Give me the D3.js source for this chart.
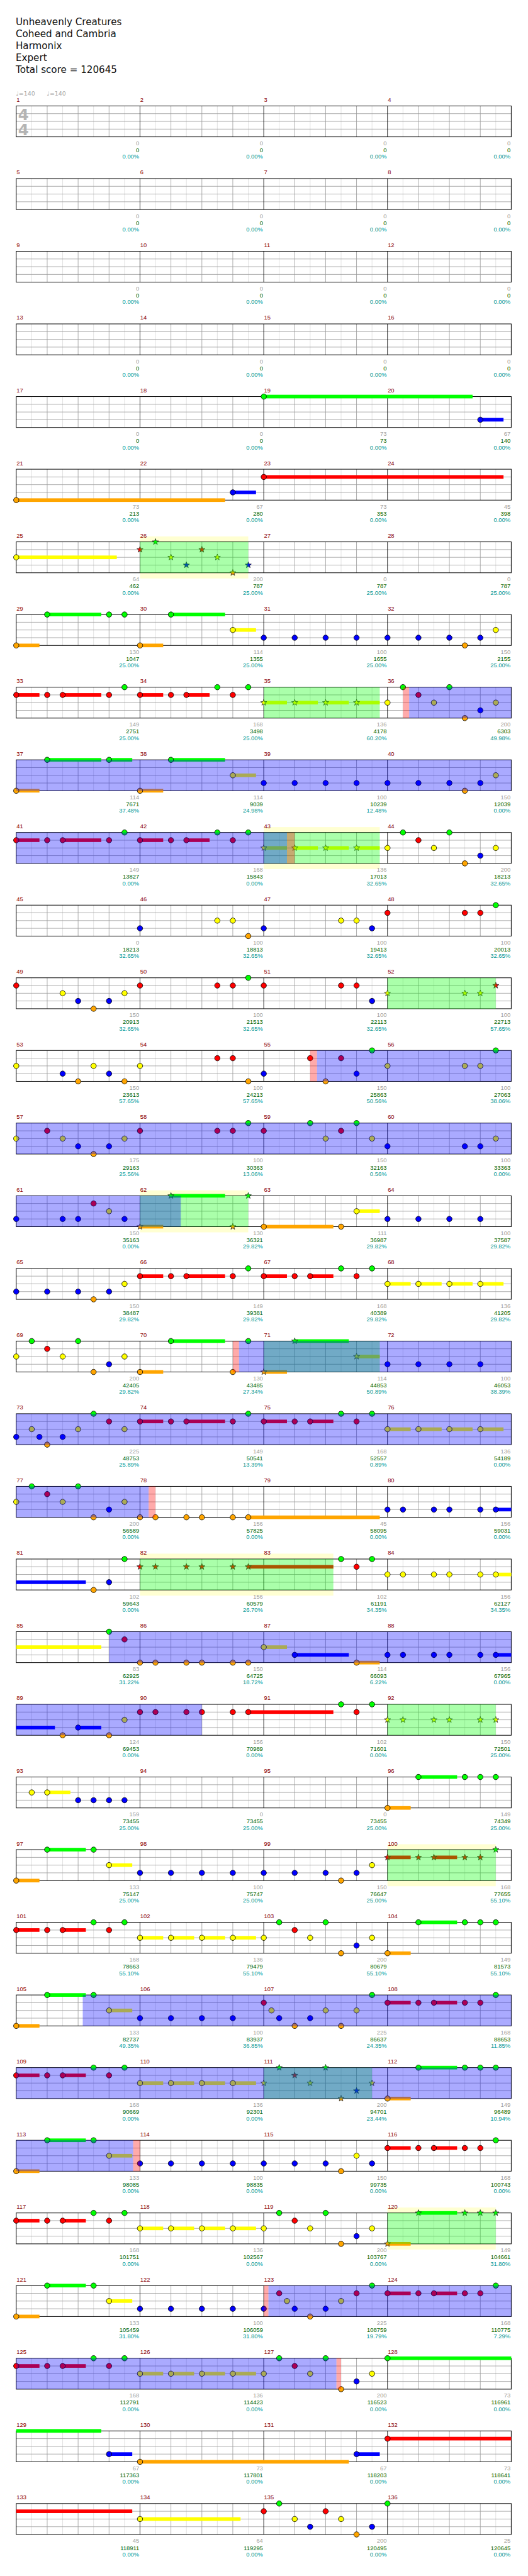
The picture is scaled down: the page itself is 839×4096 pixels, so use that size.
<!DOCTYPE html>
<html><head><meta charset="utf-8">
<script src="https://cdn.jsdelivr.net/npm/d3@7"></script>
<style>body{margin:0;background:#fff}svg{display:block}</style>
</head><body>
<script>
// ---------- DATA ----------
const titleLines = ["Unheavenly Creatures","Coheed and Cambria","Harmonix","Expert","Total score = 120645"];
const tempoMarks = [[0,"140"],[1,"140"]]; // [beat in measure 1, bpm]
const laneNames = ["G","R","Y","B","O"];
const laneColors = {G:"#00ff00",R:"#ff0000",Y:"#ffff00",B:"#0000ff",O:"#ffa500"};

// per-measure values (measures 1..136)
const gains = [
0,0,0,0, 0,0,0,0, 0,0,0,0, 0,0,0,0,
0,0,73,67, 73,67,73,45, 64,200,0,0, 130,114,100,150,
149,168,136,200, 114,114,100,150, 149,168,136,200, 0,100,100,100,
150,100,100,100, 150,100,150,100, 175,100,150,100, 150,130,111,100,
150,149,168,136, 200,130,114,100, 225,149,168,136, 200,156,45,156,
102,156,102,156, 83,150,114,156, 124,156,102,150, 159,0,0,149,
133,100,150,168, 168,136,200,149, 133,100,225,168, 168,136,200,149,
133,100,150,168, 168,136,200,149, 133,100,225,168, 168,136,200,73,
67,73,67,73, 45,64,200,25];
const totals = [
0,0,0,0, 0,0,0,0, 0,0,0,0, 0,0,0,0,
0,0,73,140, 213,280,353,398, 462,787,787,787, 1047,1355,1655,2155,
2751,3498,4178,6303, 7671,9039,10239,12039, 13827,15843,17013,18213, 18213,18813,19413,20013,
20913,21513,22113,22713, 23613,24213,25863,27063, 29163,30363,32163,33363, 35163,36321,36987,37587,
38487,39381,40389,41205, 42405,43485,44853,46053, 48753,50541,52557,54189, 56589,57825,58095,59031,
59643,60579,61191,62127, 62925,64725,66093,67965, 69453,70989,71601,72501, 73455,73455,73455,74349,
75147,75747,76647,77655, 78663,79479,80679,81573, 82737,83937,86637,88653, 90669,92301,94701,96489,
98085,98835,99735,100743, 101751,102567,103767,104661, 105459,106059,108759,110775, 112791,114423,116523,116961,
117363,117801,118203,118641, 118911,119295,120495,120645];
const percents = [
0,0,0,0, 0,0,0,0, 0,0,0,0, 0,0,0,0,
0,0,0,0, 0,0,0,0, 0,25,25,25, 25,25,25,25,
25,25,60.20,49.98, 37.48,24.98,12.48,0, 0,0,32.65,32.65, 32.65,32.65,32.65,32.65,
32.65,32.65,32.65,57.65, 57.65,57.65,50.56,38.06, 25.56,13.06,0.56,0, 0,29.82,29.82,29.82,
29.82,29.82,29.82,29.82, 29.82,27.34,50.89,38.39, 25.89,13.39,0.89,0, 0,0,0,0,
0,26.70,34.35,34.35, 31.22,18.72,6.22,0, 0,0,0,25, 25,25,25,25,
25,25,25,55.10, 55.10,55.10,55.10,55.10, 49.35,36.85,24.35,11.85, 0,0,23.44,10.94,
0,0,0,0, 0,0,0,31.80, 31.80,31.80,19.79,7.29, 0,0,0,0,
0,0,0,0, 0,0,0,0];

// notes: [row, beat within row (0-16), lane, sustain end beat (row-relative), star]
const notes = [
[5,8,"G",14.75],[5,15,"B",15.75],
[6,0,"O",6.75],[6,7,"B",7.75],[6,8,"R",15.75],
[7,0,"Y",3.25],[7,4,"R",0,1],[7,4.5,"G",0,1],[7,5,"Y",0,1],[7,5.5,"B",0,1],[7,6,"R",0,1],[7,6.5,"Y",0,1],[7,7,"O",0,1],[7,7.5,"B",0,1],
[8,0,"O",0.75],[8,1,"G",2.75],[8,3,"G"],[8,3.5,"G"],[8,4,"O",4.75],[8,5,"G",6.75],[8,7,"Y",7.75],[8,8,"B"],[8,9,"B"],[8,10,"B"],[8,11,"B"],[8,12,"B"],[8,13,"B"],[8,14,"B"],[8,14.5,"O"],[8,15,"B"],[8,15.5,"Y"],
[9,0,"R",0.75],[9,1,"R"],[9,1.5,"R",2.75],[9,3,"R"],[9,3.5,"G"],[9,4,"R",4.75],[9,5,"R"],[9,5.5,"R",6.25],[9,6.5,"G"],[9,7,"R"],[9,7.5,"G"],[9,8,"Y",8.75,1],[9,9,"Y",9.75,1],[9,10,"Y",10.75,1],[9,11,"Y",11.75,1],[9,12,"Y"],[9,12.5,"G"],[9,13,"R"],[9,13.5,"Y"],[9,14,"G"],[9,14.5,"O"],[9,15,"B"],[9,15.5,"Y"],
[10,0,"O",0.75],[10,1,"G",2.75],[10,3,"G",3.75],[10,4,"O",4.75],[10,5,"G",6.75],[10,7,"Y",7.75],[10,8,"B"],[10,9,"B"],[10,10,"B"],[10,11,"B"],[10,12,"B"],[10,13,"B"],[10,14,"B"],[10,14.5,"O"],[10,15,"B"],[10,15.5,"Y"],
[11,0,"R",0.75],[11,1,"R"],[11,1.5,"R",2.75],[11,3,"R"],[11,3.5,"G"],[11,4,"R",4.75],[11,5,"R"],[11,5.5,"R",6.25],[11,6.5,"G"],[11,7,"R"],[11,7.5,"G"],[11,8,"Y",8.75,1],[11,9,"Y",9.75,1],[11,10,"Y",10.75,1],[11,11,"Y",11.75,1],[11,12,"Y"],[11,12.5,"G"],[11,13,"R"],[11,13.5,"Y"],[11,14,"G"],[11,14.5,"O"],[11,15,"B"],[11,15.5,"Y"],
[12,4,"B"],[12,6.5,"Y"],[12,7,"Y"],[12,7.5,"O"],[12,8,"B"],[12,10.5,"Y"],[12,11,"Y"],[12,11.5,"B"],[12,12,"R"],[12,14.5,"R"],[12,15,"R"],[12,15.5,"G"],
[13,0,"R"],[13,1.5,"Y"],[13,2,"B"],[13,2.5,"O"],[13,3,"B"],[13,3.5,"Y"],[13,4,"R"],[13,6.5,"R"],[13,7,"R"],[13,7.5,"G"],[13,8,"R"],[13,10.5,"R"],[13,11,"R"],[13,11.5,"B"],[13,12,"Y",0,1],[13,14.5,"Y",0,1],[13,15,"Y",0,1],[13,15.5,"R",0,1],
[14,0,"Y"],[14,1.5,"B"],[14,2,"O"],[14,2.5,"Y"],[14,3,"B"],[14,3.5,"O"],[14,4,"Y"],[14,6.5,"R"],[14,7,"R"],[14,7.5,"O"],[14,8,"B"],[14,9.5,"R"],[14,10,"O"],[14,10.5,"R"],[14,11,"B"],[14,11.5,"G"],[14,12,"Y"],[14,14.5,"Y"],[14,15,"Y"],[14,15.5,"G"],
[15,0,"Y"],[15,1,"R"],[15,1.5,"Y"],[15,2,"B"],[15,2.5,"O"],[15,3,"B"],[15,3.5,"Y"],[15,4,"R"],[15,6.5,"R"],[15,7,"R"],[15,7.5,"G"],[15,8,"R"],[15,9.5,"G"],[15,10,"Y"],[15,10.5,"R"],[15,11,"G"],[15,11.5,"Y"],[15,12,"B"],[15,14.5,"B"],[15,15,"B"],[15,15.5,"Y"],
[16,0,"B"],[16,1.5,"B"],[16,2,"B"],[16,2.5,"R"],[16,3,"Y"],[16,3.5,"B"],[16,4,"O",4.75,1],[16,5,"G",6.75,1],[16,7,"O",0,1],[16,7.5,"G",0,1],[16,8,"O",10.25],[16,10.5,"O"],[16,11,"Y",11.75],[16,12,"B"],[16,13,"B"],[16,14,"B"],[16,15,"B"],
[17,0,"B"],[17,1,"B"],[17,2,"B"],[17,2.5,"O"],[17,3,"B"],[17,3.5,"Y"],[17,4,"R",4.75],[17,5,"R"],[17,5.5,"R",6.75],[17,7,"R"],[17,7.5,"G"],[17,8,"R",8.75],[17,9,"R"],[17,9.5,"R",10.25],[17,10.5,"G"],[17,11,"R"],[17,11.5,"G"],[17,12,"Y",12.75],[17,13,"Y",13.75],[17,14,"Y",14.75],[17,15,"Y",15.75],
[18,0,"Y"],[18,0.5,"G"],[18,1,"R"],[18,1.5,"Y"],[18,2,"G"],[18,2.5,"O"],[18,3,"B"],[18,3.5,"Y"],[18,4,"O",4.75],[18,5,"G",6.75],[18,7,"O"],[18,7.5,"G"],[18,8,"O",8.75,1],[18,9,"G",10.75,1],[18,11,"Y",11.75,1],[18,12,"B"],[18,13,"B"],[18,14,"B"],[18,15,"B"],
[19,0,"B"],[19,0.5,"Y"],[19,0.75,"B"],[19,1,"O"],[19,1.5,"B"],[19,2,"Y"],[19,2.5,"G"],[19,3,"R"],[19,3.5,"Y"],[19,4,"R",4.75],[19,5,"R"],[19,5.5,"R",6.75],[19,7,"R"],[19,7.5,"G"],[19,8,"R",8.75],[19,9,"R"],[19,9.5,"R",10.25],[19,10.5,"G"],[19,11,"R"],[19,11.5,"G"],[19,12,"Y",12.75],[19,13,"Y",13.75],[19,14,"Y",14.75],[19,15,"Y",15.75],
[20,0,"Y"],[20,0.5,"G"],[20,1,"R"],[20,1.5,"Y"],[20,2,"G"],[20,2.5,"O"],[20,3,"B"],[20,3.5,"Y"],[20,4,"O"],[20,4.5,"O"],[20,5.5,"O"],[20,6,"O"],[20,7,"O"],[20,7.5,"O",11.75],[20,12,"B"],[20,12.5,"B"],[20,13.5,"B"],[20,14,"B"],[20,15,"B"],[20,15.5,"B",18.25],
[21,2.5,"O"],[21,3,"B"],[21,3.5,"G"],[21,4,"R",0,1],[21,4.5,"R",0,1],[21,5.5,"R",0,1],[21,6,"R",0,1],[21,7,"R",0,1],[21,7.5,"R",10.25,1],[21,10.5,"G"],[21,11,"R"],[21,11.5,"G"],[21,12,"Y"],[21,12.5,"Y"],[21,13.5,"Y"],[21,14,"Y"],[21,15,"Y"],[21,15.5,"Y",18.75],
[22,3,"G"],[22,3.5,"R"],[22,4,"O"],[22,4.5,"O"],[22,5.5,"O"],[22,6,"O"],[22,7,"O"],[22,7.5,"O"],[22,8,"Y",8.75],[22,9,"B",10.75],[22,11,"O",11.75],[22,12,"B"],[22,12.5,"B"],[22,13.5,"B"],[22,14,"B"],[22,15,"B"],[22,15.5,"B",17.25],
[23,1.5,"O"],[23,2,"B",2.75],[23,3,"O"],[23,3.5,"Y"],[23,4,"R"],[23,4.5,"R"],[23,5.5,"R"],[23,6,"R"],[23,7,"R"],[23,7.5,"R",10.25],[23,10.5,"G"],[23,11,"R"],[23,11.5,"G"],[23,12,"Y",0,1],[23,12.5,"Y",0,1],[23,13.5,"Y",0,1],[23,14,"Y",0,1],[23,15,"Y",0,1],[23,15.5,"Y",0,1],
[24,0.5,"Y"],[24,1,"Y",1.75],[24,2,"B"],[24,2.5,"B"],[24,3,"B"],[24,3.5,"B"],[24,12,"O",12.75],[24,13,"G",14.25],[24,14.5,"G"],[24,15,"G"],[24,15.5,"G"],
[25,0,"O",0.75],[25,1,"G",2.25],[25,2.5,"G"],[25,3,"Y",3.75],[25,4,"B"],[25,5,"B"],[25,6,"B"],[25,7,"B"],[25,8,"B"],[25,9,"B"],[25,10,"B"],[25,10.5,"O"],[25,11,"B"],[25,11.5,"Y"],[25,12,"R",12.75,1],[25,13,"R",0,1],[25,13.5,"R",14.25,1],[25,14.5,"R",0,1],[25,15,"R",0,1],[25,15.5,"G",0,1],
[26,0,"R",0.75],[26,1,"R"],[26,1.5,"R",2.25],[26,2.5,"G"],[26,3,"R"],[26,3.5,"G"],[26,4,"Y",4.75],[26,5,"Y",5.75],[26,6,"Y",6.75],[26,7,"Y",7.75],[26,8,"Y"],[26,8.5,"G"],[26,9,"R"],[26,9.5,"Y"],[26,10,"G"],[26,10.5,"O"],[26,11,"B"],[26,11.5,"Y"],[26,12,"O",12.75],[26,13,"G",14.25],[26,14.5,"G"],[26,15,"G"],[26,15.5,"G"],
[27,0,"O",0.75],[27,1,"G",2.25],[27,2.5,"G"],[27,3,"Y",3.75],[27,4,"B"],[27,5,"B"],[27,6,"B"],[27,7,"B"],[27,8,"R"],[27,8.25,"Y"],[27,8.5,"B"],[27,9,"O"],[27,9.5,"B"],[27,10,"Y"],[27,10.5,"O"],[27,11,"Y"],[27,11.5,"G"],[27,12,"R",12.75],[27,13,"R"],[27,13.5,"R",14.25],[27,14.5,"R"],[27,15,"R"],[27,15.5,"G"],
[28,0,"R",0.75],[28,1,"R"],[28,1.5,"R",2.25],[28,2.5,"G"],[28,3,"R"],[28,3.5,"G"],[28,4,"Y",4.75],[28,5,"Y",5.75],[28,6,"Y",6.75],[28,7,"Y",7.75],[28,8,"Y",0,1],[28,8.5,"G",0,1],[28,9,"R",0,1],[28,9.5,"Y",0,1],[28,10,"G",0,1],[28,10.5,"O",0,1],[28,11,"B",0,1],[28,11.5,"Y",0,1],[28,12,"O",12.75],[28,13,"G",14.25],[28,14.5,"G"],[28,15,"G"],[28,15.5,"G"],
[29,0,"O",0.75],[29,1,"G",2.25],[29,2.5,"G"],[29,3,"Y",3.75],[29,4,"B"],[29,5,"B"],[29,6,"B"],[29,7,"B"],[29,8,"B"],[29,9,"B"],[29,10,"B"],[29,10.5,"O"],[29,11,"Y"],[29,11.5,"B"],[29,12,"R",12.75],[29,13,"R"],[29,13.5,"R",14.25],[29,14.5,"R"],[29,15,"R"],[29,15.5,"G"],
[30,0,"R",0.75],[30,1,"R"],[30,1.5,"R",2.25],[30,2.5,"G"],[30,3,"R"],[30,3.5,"G"],[30,4,"Y",4.75],[30,5,"Y",5.75],[30,6,"Y",6.75],[30,7,"Y",7.75],[30,8,"Y"],[30,8.5,"G"],[30,9,"R"],[30,9.5,"Y"],[30,10,"G"],[30,10.5,"O"],[30,11,"B"],[30,11.5,"Y"],[30,12,"O",12.75,1],[30,13,"G",14.25,1],[30,14.5,"G",0,1],[30,15,"G",0,1],[30,15.5,"G",0,1],
[31,0,"O",0.75],[31,1,"G",2.25],[31,2.5,"G"],[31,3,"Y",3.75],[31,4,"B"],[31,5,"B"],[31,6,"B"],[31,7,"B"],[31,8,"B"],[31,8.5,"R"],[31,8.75,"Y"],[31,9,"B"],[31,9.5,"O"],[31,10,"B"],[31,10.5,"Y"],[31,11,"R"],[31,11.5,"G"],[31,12,"R",12.75],[31,13,"R"],[31,13.5,"R",14.25],[31,14.5,"R"],[31,15,"R"],[31,15.5,"G"],
[32,0,"R",0.75],[32,1,"R"],[32,1.5,"R",2.25],[32,2.5,"G"],[32,3,"R"],[32,3.5,"G"],[32,4,"Y",4.75],[32,5,"Y",5.75],[32,6,"Y",6.75],[32,7,"Y",7.75],[32,8,"Y"],[32,8.5,"G"],[32,9,"R"],[32,9.5,"Y"],[32,10,"G"],[32,10.5,"O"],[32,11,"B"],[32,11.5,"Y"],[32,12,"G",18.75],
[33,3,"B",3.75],[33,4,"O",10.75],[33,11,"B",11.75],[33,12,"R",19.75],
[34,4,"Y",7.25],[34,8,"R"],[34,8.5,"G"],[34,9,"Y"],[34,9.5,"B"],[34,10,"R"],[34,10.5,"Y"],[34,11,"O"],[34,11.5,"B"],[34,12,"G"]
];

// star power phrases: [row, startBeat, endBeat, highlighted background]
const spPhrases = [[7,4,7.5,1],[9,8,11.75,0],[11,8,11.75,1],[13,12,15.5,0],[16,4,7.5,1],[18,8,11.75,0],[21,4,10.25,1],[23,12,15.5,0],[25,12,15.5,1],[28,8,11.5,0],[30,12,15.5,1]];
// activations: [startRow, startBeat, endRow, endBeat]
const activations = [[9,12.7,11,8.75],[14,9.72,16,5.32],[18,7.2,20,4.28],[22,3,23,6],[27,2.15,29,3.78],[31,8.15,32,10.35]];
const redStrips = [[9,12.5,9,12.7],[11,8.75,11,9],[14,9.5,14,9.72],[18,7,18,7.2],[20,4.28,20,4.5],[29,3.78,29,4],[31,8,31,8.15],[32,10.35,32,10.5]];

// ---------- DRAW ----------
const W = 1024, H = 4999, NROWS = 34, BPR = 16;
const svg = d3.select("body").append("svg").attr("width",839).attr("height",4096).attr("viewBox",`0 0 ${W} ${H}`);
const x = d3.scaleLinear().domain([0,BPR]).range([31.5,991.5]);
const rowY = d3.scaleLinear().domain([0,NROWS-1]).range([205.5,205.5+141*(NROWS-1)]);
const laneY = d3.scalePoint().domain(laneNames).range([0,60]);
const abs = (r,b) => (r-1)*BPR + b;
function splitRows(a,b){ const out=[]; for(let r=Math.floor(a/BPR); r*BPR<b; r++){ const s=Math.max(a,r*BPR)-r*BPR, e=Math.min(b,(r+1)*BPR)-r*BPR; if(e>s) out.push({row:r,s,e}); } return out; }

// title
svg.append("g").selectAll("text").data(titleLines).join("text")
  .attr("x",30.5).attr("y",(d,i)=>49+23*i).attr("font-family","DejaVu Sans").attr("font-size",18.5).attr("fill","#111").text(d=>d);

const font = "Liberation Sans, Arial, sans-serif";
const rows = svg.append("g").selectAll("g").data(d3.range(NROWS)).join("g").attr("transform",r=>`translate(0,${rowY(r)})`);

// yellow backgrounds for phrases
const sp = spPhrases.map(d=>({row:d[0]-1,s:d[1],e:d[2],bg:d[3]}));
rows.each(function(r){
  const g = d3.select(this);
  g.selectAll("rect.ybg").data(sp.filter(d=>d.row===r && d.bg)).join("rect").attr("class","ybg")
    .attr("x",d=>x(d.s)).attr("width",d=>x(d.e)-x(d.s)).attr("y",-10.5).attr("height",81.5).attr("fill","#ffffd2");
  g.append("rect").attr("x",x(0)).attr("y",0).attr("width",x(16)-x(0)).attr("height",60).attr("fill","#fff");
  // half-beat lines
  g.selectAll("line.h").data(d3.range(0.5,16,1)).join("line").attr("class","h")
    .attr("x1",d=>x(d)).attr("x2",d=>x(d)).attr("y1",0).attr("y2",60).attr("stroke","#dcdcdc");
  // lane lines
  g.selectAll("line.l").data(laneNames.slice(1,4)).join("line").attr("class","l")
    .attr("x1",x(0)).attr("x2",x(16)).attr("y1",d=>laneY(d)).attr("y2",d=>laneY(d)).attr("stroke","#9a9a9a");
  // beat lines
  g.selectAll("line.b").data(d3.range(1,16).filter(d=>d%4)).join("line").attr("class","b")
    .attr("x1",d=>x(d)).attr("x2",d=>x(d)).attr("y1",0).attr("y2",60).attr("stroke","#9a9a9a");
  // measure lines
  g.selectAll("line.m").data([4,8,12]).join("line").attr("class","m")
    .attr("x1",d=>x(d)).attr("x2",d=>x(d)).attr("y1",0).attr("y2",60).attr("stroke","#000");
  g.append("rect").attr("x",x(0)).attr("y",0).attr("width",x(16)-x(0)).attr("height",60).attr("fill","none").attr("stroke","#000").attr("stroke-width",1.2);
});

// time signature & tempo (first row)
const first = rows.filter(r=>r===0);
first.selectAll("text.ts").data([31.5,61]).join("text").attr("class","ts").attr("x",35).attr("y",d=>d-4.5)
  .attr("font-family","DejaVu Sans").attr("font-weight","bold").attr("font-size",30).attr("fill","#b4b4b4").text("4");
first.selectAll("text.tempo").data(tempoMarks).join("text").attr("class","tempo")
  .attr("x",d=>x(d[0])-0.5).attr("y",-20.5).attr("font-family","DejaVu Sans").attr("font-size",11.5).attr("fill","#a8a8a8").text(d=>"\u2669="+d[1]);

// sustains
const sus = [];
notes.forEach(n=>{ if(n[3] && n[3]>n[1]){ splitRows(abs(n[0],n[1]),abs(n[0],n[3])).forEach(s=>sus.push({...s,lane:n[2]})); }});
rows.each(function(r){
  d3.select(this).selectAll("rect.sus").data(sus.filter(d=>d.row===r)).join("rect").attr("class","sus")
    .attr("x",d=>x(d.s)).attr("width",d=>x(d.e)-x(d.s)).attr("y",d=>laneY(d.lane)-3.5).attr("height",7).attr("fill",d=>laneColors[d.lane]);
});

// note heads
function starPath(R,r){ const p=[]; for(let i=0;i<10;i++){ const a=-Math.PI/2+i*Math.PI/5, rr=i%2?r:R; p.push([rr*Math.cos(a),rr*Math.sin(a)]); } return "M"+p.map(q=>q.join(",")).join("L")+"Z"; }
const star = starPath(6.3,2.6);
const nd = notes.map(n=>({row:n[0]-1,b:n[1],lane:n[2],star:!!n[4]}));
rows.each(function(r){
  const g = d3.select(this), mine = nd.filter(d=>d.row===r);
  g.selectAll("circle.n").data(mine.filter(d=>!d.star)).join("circle").attr("class","n")
    .attr("cx",d=>x(d.b)).attr("cy",d=>laneY(d.lane)).attr("r",5.2).attr("fill",d=>laneColors[d.lane]).attr("stroke","#000").attr("stroke-width",1);
  g.selectAll("path.s").data(mine.filter(d=>d.star)).join("path").attr("class","s")
    .attr("transform",d=>`translate(${x(d.b)},${laneY(d.lane)})`).attr("d",star).attr("fill",d=>laneColors[d.lane]).attr("stroke","#222").attr("stroke-width",0.9);
});

// overlays
const acts = []; activations.forEach(a=>splitRows(abs(a[0],a[1]),abs(a[2],a[3])).forEach(s=>acts.push(s)));
const reds = []; redStrips.forEach(a=>splitRows(abs(a[0],a[1]),abs(a[2],a[3])).forEach(s=>reds.push(s)));
rows.each(function(r){
  const g = d3.select(this);
  g.selectAll("rect.sp").data(sp.filter(d=>d.row===r)).join("rect").attr("class","sp")
    .attr("x",d=>x(d.s)).attr("width",d=>x(d.e)-x(d.s)).attr("y",0).attr("height",60).attr("fill","#00ff00").attr("fill-opacity",0.333);
  g.selectAll("rect.act").data(acts.filter(d=>d.row===r)).join("rect").attr("class","act")
    .attr("x",d=>x(d.s)).attr("width",d=>x(d.e)-x(d.s)).attr("y",0).attr("height",60).attr("fill","#0000ff").attr("fill-opacity",0.333);
  g.selectAll("rect.red").data(reds.filter(d=>d.row===r)).join("rect").attr("class","red")
    .attr("x",d=>x(d.s)).attr("width",d=>x(d.e)-x(d.s)).attr("y",0).attr("height",60).attr("fill","#ff0000").attr("fill-opacity",0.333);
});

// measure texts
const meas = d3.range(1,gains.length+1).map(m=>({m,row:Math.floor((m-1)/4),col:(m-1)%4}));
rows.each(function(r){
  const g = d3.select(this), mine = meas.filter(d=>d.row===r);
  g.selectAll("text.mn").data(mine).join("text").attr("class","mn")
    .attr("x",d=>x(d.col*4)+0.5).attr("y",-8).attr("font-family",font).attr("font-size",11.5).attr("fill","#8b0000").text(d=>d.m);
  const right = d=>x(d.col*4+4)-1.5;
  g.selectAll("text.g1").data(mine).join("text").attr("class","g1").attr("text-anchor","end")
    .attr("x",right).attr("y",76.5).attr("font-family",font).attr("font-size",11.5).attr("fill","#a0a0a0").text(d=>gains[d.m-1]);
  g.selectAll("text.g2").data(mine).join("text").attr("class","g2").attr("text-anchor","end")
    .attr("x",right).attr("y",90).attr("font-family",font).attr("font-size",11.5).attr("fill","#006400").text(d=>totals[d.m-1]);
  g.selectAll("text.g3").data(mine).join("text").attr("class","g3").attr("text-anchor","end")
    .attr("x",right).attr("y",102.5).attr("font-family",font).attr("font-size",11.5).attr("fill","#009999").text(d=>d3.format(".2f")(percents[d.m-1])+"%");
});
</script>
</body></html>
